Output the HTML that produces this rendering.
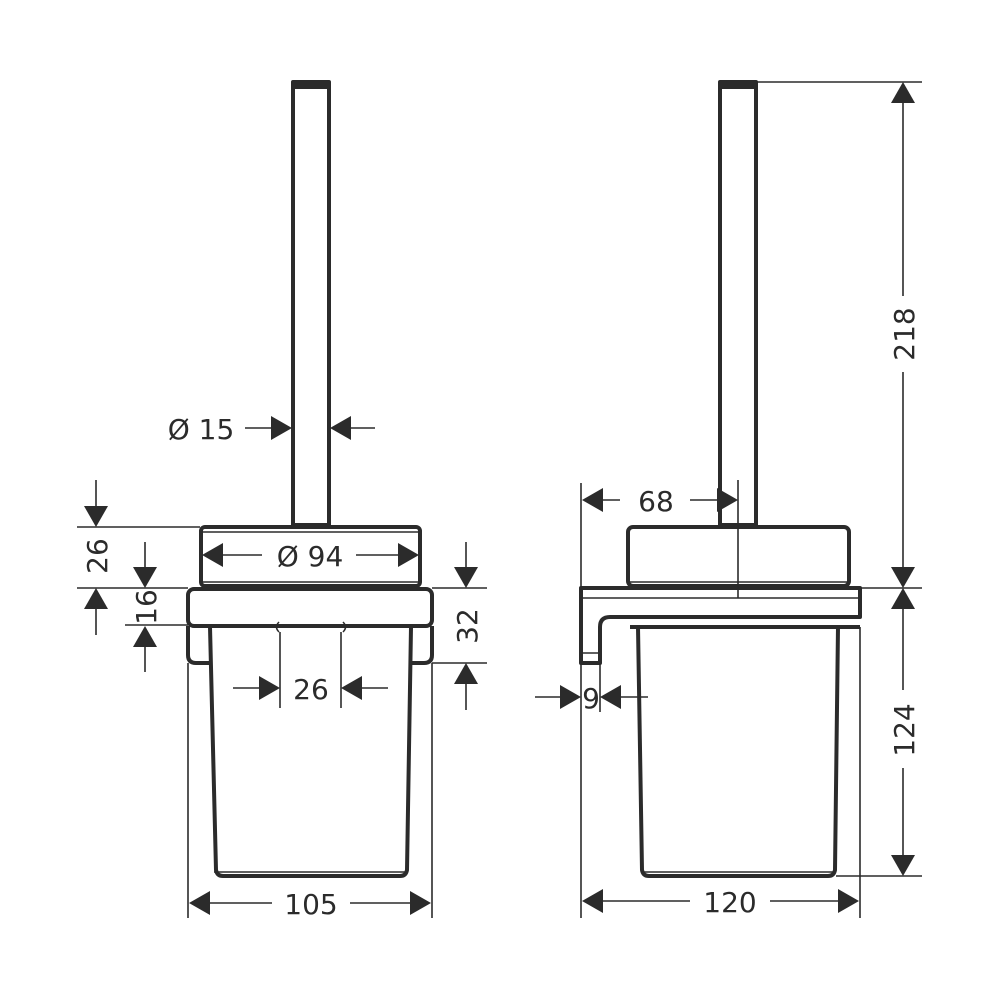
<!DOCTYPE html>
<html><head><meta charset="utf-8"><style>
html,body{margin:0;padding:0;background:#fff}
svg{display:block}
text{font-family:"DejaVu Sans","Liberation Sans",sans-serif;font-size:28px;fill:#2b2b2b}
</style></head><body>
<svg width="1000" height="1000" viewBox="0 0 1000 1000" xmlns="http://www.w3.org/2000/svg">
<defs>
<path id="ad" d="M0 0 L-12 -21 L12 -21 Z" fill="#2b2b2b"/>
</defs>
<g fill="none" stroke="#2b2b2b" stroke-linejoin="round">
<!-- LEFT VIEW -->
<rect x="293" y="82" width="36" height="443" stroke-width="4"/>
<rect x="293" y="82" width="36" height="6" fill="#2b2b2b" stroke-width="2"/>
<rect x="201" y="527" width="219" height="59" rx="4" stroke-width="4"/>
<line x1="203" y1="532" x2="418" y2="532" stroke-width="1.5"/>
<line x1="203" y1="582" x2="418" y2="582" stroke-width="1.5"/>
<rect x="188" y="589" width="244" height="37" rx="6" stroke-width="4"/>
<path d="M188 626 V655 Q188 663 196 663 H210 M432 626 V655 Q432 663 424 663 H410" stroke-width="4"/>
<path d="M210 627 L216 870 Q217 876 223 876 H400 Q406 876 407 870 L411 627" stroke-width="4"/>
<line x1="214" y1="872" x2="408" y2="872" stroke-width="1.5"/>
<path d="M279 622 Q274 627 279 632 M343 622 Q348 627 343 632" stroke-width="1.5"/>
<!-- dims left -->
<g stroke-width="1.6">
<line x1="77" y1="527" x2="200" y2="527"/>
<line x1="77" y1="588" x2="188" y2="588"/>
<line x1="125" y1="625" x2="188" y2="625"/>
<line x1="96" y1="480" x2="96" y2="510"/>
<line x1="96" y1="605" x2="96" y2="635"/>
<line x1="145" y1="542" x2="145" y2="570"/>
<line x1="145" y1="645" x2="145" y2="672"/>
<line x1="432" y1="588" x2="487" y2="588"/>
<line x1="432" y1="663" x2="487" y2="663"/>
<line x1="466" y1="542" x2="466" y2="570"/>
<line x1="466" y1="680" x2="466" y2="710"/>
<line x1="280" y1="632" x2="280" y2="708"/>
<line x1="341" y1="632" x2="341" y2="708"/>
<line x1="233" y1="688" x2="262" y2="688"/>
<line x1="360" y1="688" x2="388" y2="688"/>
<line x1="220" y1="555" x2="262" y2="555"/>
<line x1="356" y1="555" x2="400" y2="555"/>
<line x1="245" y1="428" x2="275" y2="428"/>
<line x1="348" y1="428" x2="375" y2="428"/>
<line x1="188" y1="663" x2="188" y2="918"/>
<line x1="432" y1="663" x2="432" y2="918"/>
<line x1="208" y1="903" x2="272" y2="903"/>
<line x1="350" y1="903" x2="412" y2="903"/>
</g>
<!-- RIGHT VIEW -->
<rect x="720" y="82" width="36" height="443" stroke-width="4"/>
<rect x="720" y="82" width="36" height="6" fill="#2b2b2b" stroke-width="2"/>
<rect x="628" y="527" width="221" height="59" rx="5" stroke-width="4"/>
<line x1="630" y1="582" x2="847" y2="582" stroke-width="1.5"/>
<path d="M860 588 H581 V663 H600 V627 Q600 617 610 617 H860 Z" stroke-width="4"/>
<line x1="582" y1="598" x2="858" y2="598" stroke-width="1.5"/>
<line x1="582" y1="653" x2="598" y2="653" stroke-width="1.5"/>
<line x1="630" y1="627" x2="860" y2="627" stroke-width="4"/>
<path d="M638 627 L642 870 Q643 876 649 876 H828 Q834 876 835 870 L838 627" stroke-width="4"/>
<line x1="642" y1="872" x2="834" y2="872" stroke-width="1.5"/>
<g stroke-width="1.6">
<line x1="581" y1="483" x2="581" y2="918"/>
<line x1="860" y1="627" x2="860" y2="918"/>
<line x1="738" y1="480" x2="738" y2="598"/>
<line x1="600" y1="500" x2="620" y2="500"/>
<line x1="690" y1="500" x2="718" y2="500"/>
<line x1="600" y1="663" x2="600" y2="712"/>
<line x1="535" y1="697" x2="562" y2="697"/>
<line x1="618" y1="697" x2="648" y2="697"/>
<line x1="757" y1="82" x2="922" y2="82"/>
<line x1="860" y1="588" x2="922" y2="588"/>
<line x1="836" y1="876" x2="922" y2="876"/>
<line x1="903" y1="100" x2="903" y2="296"/>
<line x1="903" y1="372" x2="903" y2="568"/>
<line x1="903" y1="608" x2="903" y2="690"/>
<line x1="903" y1="768" x2="903" y2="856"/>
<line x1="600" y1="901" x2="690" y2="901"/>
<line x1="770" y1="901" x2="840" y2="901"/>
</g>
</g>
<!-- arrows -->
<g>
<use href="#ad" transform="translate(96,527)"/>
<use href="#ad" transform="translate(96,588) rotate(180)"/>
<use href="#ad" transform="translate(145,588)"/>
<use href="#ad" transform="translate(145,626) rotate(180)"/>
<use href="#ad" transform="translate(466,588)"/>
<use href="#ad" transform="translate(466,663) rotate(180)"/>
<use href="#ad" transform="translate(280,688) rotate(-90)"/>
<use href="#ad" transform="translate(341,688) rotate(90)"/>
<use href="#ad" transform="translate(202,555) rotate(90)"/>
<use href="#ad" transform="translate(419,555) rotate(-90)"/>
<use href="#ad" transform="translate(292,428) rotate(-90)"/>
<use href="#ad" transform="translate(330,428) rotate(90)"/>
<use href="#ad" transform="translate(189,903) rotate(90)"/>
<use href="#ad" transform="translate(431,903) rotate(-90)"/>
<use href="#ad" transform="translate(582,500) rotate(90)"/>
<use href="#ad" transform="translate(738,500) rotate(-90)"/>
<use href="#ad" transform="translate(581,697) rotate(-90)"/>
<use href="#ad" transform="translate(600,697) rotate(90)"/>
<use href="#ad" transform="translate(903,82) rotate(180)"/>
<use href="#ad" transform="translate(903,588)"/>
<use href="#ad" transform="translate(903,588) rotate(180)"/>
<use href="#ad" transform="translate(903,876)"/>
<use href="#ad" transform="translate(582,901) rotate(90)"/>
<use href="#ad" transform="translate(859,901) rotate(-90)"/>
</g>
<!-- labels -->
<text x="201" y="439" text-anchor="middle">Ø 15</text>
<text x="310" y="566" text-anchor="middle">Ø 94</text>
<text x="311" y="699" text-anchor="middle">26</text>
<text x="311" y="914" text-anchor="middle">105</text>
<text transform="translate(107,556) rotate(-90)" text-anchor="middle">26</text>
<text transform="translate(156,607) rotate(-90)" text-anchor="middle">16</text>
<text transform="translate(477,626) rotate(-90)" text-anchor="middle">32</text>
<text x="656" y="511" text-anchor="middle">68</text>
<text x="591" y="708" text-anchor="middle">9</text>
<text transform="translate(914,334) rotate(-90)" text-anchor="middle">218</text>
<text transform="translate(914,730) rotate(-90)" text-anchor="middle">124</text>
<text x="730" y="912" text-anchor="middle">120</text>
</svg>
</body></html>
